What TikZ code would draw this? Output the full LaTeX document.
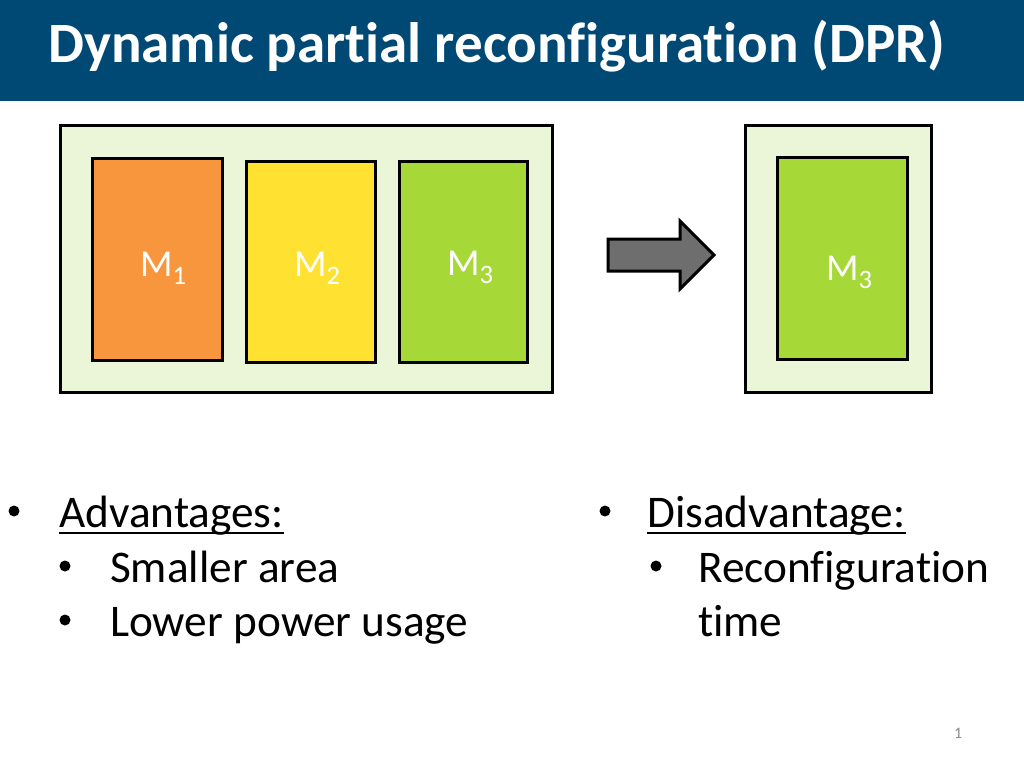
\documentclass[tikz,border=0pt]{standalone}
\usepackage{fontspec}
\setmainfont{Carlito}[Ligatures={NoCommon,NoContextual}]
\definecolor{titlebg}{RGB}{0,73,116}
\definecolor{chipbg}{RGB}{235,245,216}
\definecolor{morange}{RGB}{247,150,60}
\definecolor{myellow}{RGB}{255,225,50}
\definecolor{mgreen}{RGB}{166,216,56}
\definecolor{arrowgray}{RGB}{110,110,110}
\definecolor{pagegray}{RGB}{140,140,140}
\tikzset{
  chip/.style={draw=black, line width=3pt, fill=chipbg},
  modbox/.style={draw=black, line width=3pt},
  modlabel/.style={anchor=base west, text=white, inner sep=0pt, font=\fontsize{38}{42}\selectfont},
  bodytext/.style={anchor=base west, inner sep=0pt, font=\fontsize{45.3}{54}\selectfont},
  bulletmark/.style={circle, fill=black, inner sep=0pt, minimum size=11pt},
  underl/.style={line width=2.5pt},
}
\begin{document}
\begin{tikzpicture}[x=1pt,y=-1pt]
\useasboundingbox (0,0) rectangle (1024,768);
\fill[white] (0,0) rectangle (1024,768);
% title bar
\fill[titlebg] (0,0) rectangle (1024,101);
\node[anchor=base west, inner sep=0pt, text=white, font=\fontsize{57}{60}\selectfont\bfseries] (title) at (48,63) {Dynamic partial reconfiguration (DPR)};
% left chip
\draw[chip] (60,125) rectangle (552,392);
\draw[modbox, fill=morange] (92,158) rectangle (222,360);
\draw[modbox, fill=myellow] (246,161) rectangle (375,362);
\draw[modbox, fill=mgreen] (399,161) rectangle (527,362);
\node[modlabel] (m1) at (140,276) {M$_{\mathrm{1}}$};
\node[modlabel] (m2) at (294,276) {M$_{\mathrm{2}}$};
\node[modlabel] (m3) at (447,275) {M$_{\mathrm{3}}$};
% arrow
\draw[line width=3pt, fill=arrowgray, line join=miter] (608,239) -- (680,239) -- (680,221) -- (714,255) -- (680,289) -- (680,271) -- (608,271) -- cycle;
% right chip
\draw[chip] (745,125) rectangle (931,392);
\draw[modbox, fill=mgreen] (777,157) rectangle (907,359);
\node[modlabel] (m3r) at (826,280) {M$_{\mathrm{3}}$};
% bullets left
\node[bulletmark] (b1) at (14,511) {};
\node[bodytext] (adv) at (59,527) {Advantages:};
\draw[underl] ([yshift=-6pt]adv.base west) -- ([yshift=-6pt]adv.base east);
\node[bulletmark] (b2) at (65,566) {};
\node[bodytext] (sa) at (110,582) {Smaller area};
\node[bulletmark] (b3) at (65,620) {};
\node[bodytext] (lp) at (110,636) {Lower power usage};
% bullets right
\node[bulletmark] (b4) at (605,511) {};
\node[bodytext] (dis) at (647,527) {Disadvantage:};
\draw[underl] ([yshift=-6pt]dis.base west) -- ([yshift=-6pt]dis.base east);
\node[bulletmark] (b5) at (656,566) {};
\node[bodytext] (rc) at (698,582) {Reconfiguration};
\node[bodytext] (tm) at (698,636) {time};
% page number
\node[anchor=base west, inner sep=0pt, text=pagegray, font=\fontsize{16}{18}\selectfont] (pg) at (954,738) {1};
\end{tikzpicture}
\end{document}
